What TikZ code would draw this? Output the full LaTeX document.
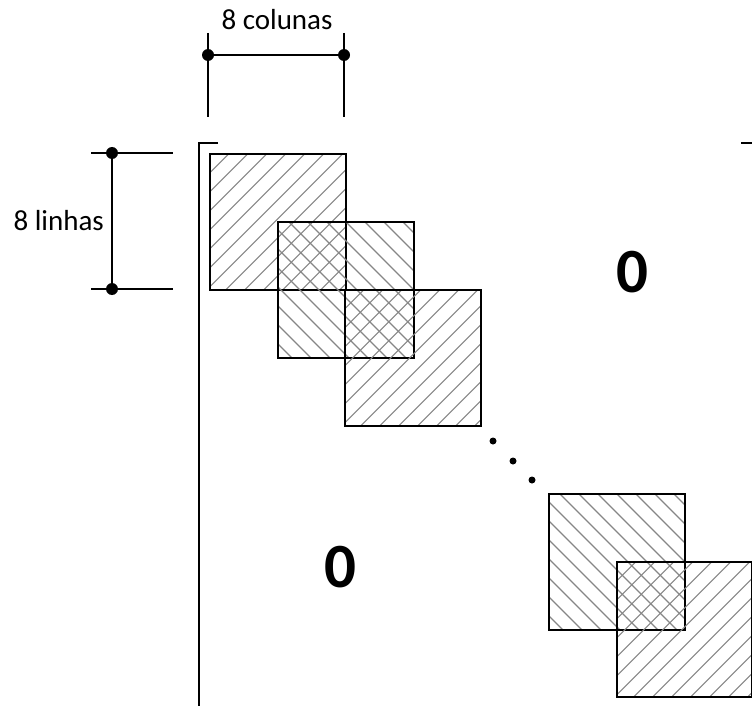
\documentclass[tikz,border=0pt]{standalone}
\usepackage{fontspec}
\setmainfont{Carlito}
\begin{document}
\begin{tikzpicture}[x=1pt,y=-1pt,
  blk/.style={draw=black,line width=1.6pt,minimum size=136pt,inner sep=0pt,anchor=north west},
  hatchline/.style={draw=gray!95,line width=1.2pt},
  hne/.style={blk,path picture={
    \foreach \k in {0,19,...,300}
      \draw[hatchline] ([xshift=\k pt]path picture bounding box.north west) -- ++(-220pt,-220pt);}},
  hnw/.style={blk,path picture={
    \foreach \k in {-160,-141,...,150}
      \draw[hatchline] ([xshift=\k pt]path picture bounding box.north west) -- ++(220pt,-220pt);}},
  dimline/.style={line width=1.5pt},
  dimdot/.style={circle,fill=black,inner sep=0pt,minimum size=12pt},
  ell/.style={circle,fill=black,inner sep=0pt,minimum size=7pt},
  lbl/.style={font=\fontsize{29}{32}\selectfont,inner sep=0pt},
  zero/.style={font=\fontsize{63}{66}\selectfont\bfseries,inner sep=0pt}]
\useasboundingbox (0,0) rectangle (752,706);

% top dimension
\coordinate (ta1) at (208,33);
\coordinate (ta2) at (208,117);
\coordinate (tb1) at (344,33);
\coordinate (tb2) at (344,117);
\node[dimdot] (td1) at (208,55) {};
\node[dimdot] (td2) at (344,55) {};
\draw[dimline] (ta1) -- (ta2);
\draw[dimline] (tb1) -- (tb2);
\draw[dimline] (td1.center) -- (td2.center);
\node[lbl] (tlab) at (277,20) {8 colunas};

% left dimension
\coordinate (la1) at (91,153);
\coordinate (la2) at (173,153);
\coordinate (lb1) at (91,289);
\coordinate (lb2) at (173,289);
\node[dimdot] (ld1) at (112,153) {};
\node[dimdot] (ld2) at (112,289) {};
\draw[dimline] (la1) -- (la2);
\draw[dimline] (lb1) -- (lb2);
\draw[dimline] (ld1.center) -- (ld2.center);
\node[lbl,anchor=east] (llab) at (104,221) {8 linhas};

% bracket
\coordinate (bl1) at (218,143);
\coordinate (bl2) at (199,143);
\coordinate (bl3) at (199,706);
\coordinate (br1) at (741,143);
\coordinate (br2) at (752,143);
\draw[line width=1.5pt] (bl1) -- (bl2) -- (bl3);
\draw[line width=1.5pt] (br1) -- (br2);

% blocks
\node[hne] (s1) at (209,153) {};
\node[hnw] (s2) at (277,221) {};
\node[hne] (s3) at (344,289) {};
\node[hnw] (s4) at (548,493) {};
\node[hne,minimum size=135pt] (s5) at (616,561) {};

% ellipsis
\node[ell] (e1) at (493,441) {};
\node[ell] (e2) at (513,461) {};
\node[ell] (e3) at (532,480) {};

% zeros
\node[zero] (z1) at (632,272) {0};
\node[zero] (z2) at (340,567) {0};
\end{tikzpicture}
\end{document}
